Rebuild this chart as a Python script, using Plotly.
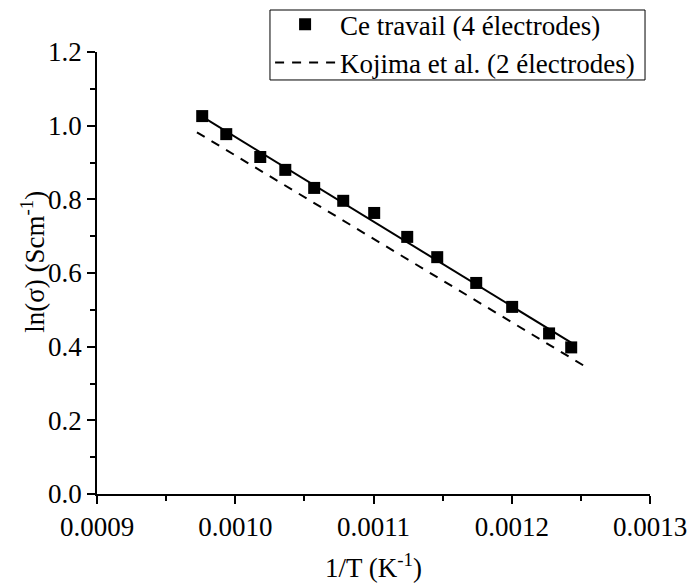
import numpy as np
import plotly.graph_objects as go

# Data
inv_T = [0.0009761, 0.0009935, 0.0010181, 0.0010362, 0.0010571, 0.0010781, 0.0011005,
         0.0011244, 0.0011461, 0.0011743, 0.0012003, 0.0012270, 0.0012430]
ln_sigma = [1.026, 0.977, 0.915, 0.880, 0.831, 0.796, 0.763,
            0.698, 0.643, 0.573, 0.508, 0.436, 0.398]

kojima_x = [0.0009723, 0.0012523]
kojima_y = [0.982, 0.348]

series_names = ["Ce travail (4 électrodes)", "Kojima et al. (2 électrodes)"]

# Linear fit of this work
slope, intercept = np.polyfit(inv_T, ln_sigma, 1)
fit_x = [min(inv_T), max(inv_T)]
fit_y = [slope * v + intercept for v in fit_x]

FONT = "Liberation Serif"

fig = go.Figure()
fig.add_trace(go.Scatter(x=fit_x, y=fit_y, mode="lines",
                         line=dict(color="black", width=2), showlegend=False))
fig.add_trace(go.Scatter(x=inv_T, y=ln_sigma, mode="markers", name=series_names[0],
                         marker=dict(symbol="square", size=12, color="black")))
fig.add_trace(go.Scatter(x=kojima_x, y=kojima_y, mode="lines", name=series_names[1],
                         line=dict(color="black", width=2, dash="9px,8px")))

axis_common = dict(showline=True, linecolor="black", linewidth=1.5, ticks="outside",
                   ticklen=8, tickwidth=1.5, tickcolor="black", showgrid=False,
                   zeroline=False, mirror=False, automargin=False,
                   tickfont=dict(family=FONT, size=27, color="black"))

fig.update_xaxes(range=[0.0009, 0.0013], dtick=0.0001, tick0=0.0009, tickformat=".4f",
                 title=dict(text="1/T (K<sup>-1</sup>)", font=dict(family=FONT, size=27, color="black"), standoff=18),
                 minor=dict(dtick=0.00005, ticks="outside", ticklen=5, tickcolor="black", tickwidth=1.5),
                 **axis_common)
fig.update_yaxes(range=[0, 1.2], dtick=0.2, tick0=0, tickformat=".1f",
                 minor=dict(dtick=0.1, ticks="outside", ticklen=5, tickcolor="black", tickwidth=1.5),
                 **axis_common)

# y-axis title as a rotated annotation (placed like the reference)
fig.add_annotation(text="ln(σ) (Scm<sup>-1</sup>)", xref="paper", yref="paper",
                   x=-0.116, y=0.525, xanchor="center", yanchor="middle",
                   textangle=-90, showarrow=False,
                   font=dict(family=FONT, size=27, color="black"))

# legend frame
fig.add_shape(type="rect", xref="paper", yref="paper",
              x0=0.3128, x1=0.991, y0=0.9367, y1=1.095,
              line=dict(color="black", width=1), fillcolor="rgba(0,0,0,0)")

fig.update_layout(
    width=689, height=583,
    margin=dict(l=97, r=39, t=52, b=89, autoexpand=False),
    plot_bgcolor="white", paper_bgcolor="white",
    font=dict(family=FONT, size=24, color="black"),
    legend=dict(x=0.313, y=1.117, xanchor="left", yanchor="top",
                borderwidth=0, bgcolor="rgba(0,0,0,0)",
                font=dict(family=FONT, size=27, color="black"),
                itemwidth=60, tracegroupgap=0),
)

fig.write_html("out.html", post_script="document.body.style.margin='0';",
               config={"displayModeBar": False})
